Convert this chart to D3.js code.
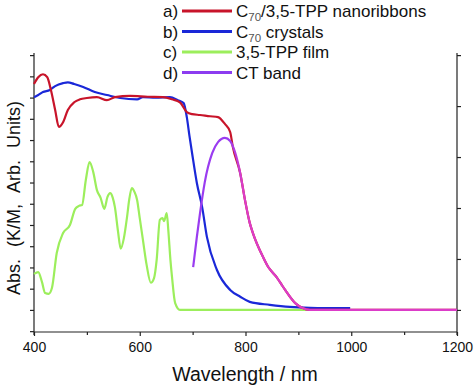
<!DOCTYPE html>
<html><head><meta charset="utf-8">
<script src="https://cdn.jsdelivr.net/npm/d3@7"></script>
<style>
html,body{margin:0;padding:0;background:#fff;}
svg{display:block;font-family:"Liberation Sans",Arial,sans-serif;}
</style></head>
<body>
<svg id="chart" width="474" height="387"></svg>
<script>
// ---- data (wavelength nm, absorbance arb. units) ----
const redWl  = [400,408,417,425,432,440,447,455,464,476,487,500,519,538,553,582,615,644,661,676,689,699,714,733,748,761,771,776,790,799,808,814,833,843,852,860,868,875,894,907,922,1000,1200];
const redAbs = [5.32,5.48,5.55,5.48,5.18,4.71,4.31,4.42,4.71,4.89,4.96,4.99,5.01,4.94,5.01,5.04,5.02,5.01,4.96,4.89,4.66,4.61,4.59,4.56,4.54,4.38,4.19,3.84,3.22,2.59,2.05,1.81,1.25,1.01,0.87,0.75,0.6,0.47,0.16,0.05,0.0,0.0,0.0];

const blueWl  = [400,408,417,430,440,455,464,476,493,515,538,563,595,606,630,657,672,683,689,694,699,708,718,727,746,771,790,808,846,884,922,998];
const blueAbs = [5.01,5.06,5.13,5.18,5.27,5.34,5.36,5.32,5.25,5.13,5.06,4.99,4.96,5.01,5.0,5.01,4.94,4.87,4.54,4.1,3.69,2.99,2.42,1.72,0.94,0.47,0.31,0.19,0.12,0.07,0.05,0.04];

const greenWl  = [400,408,415,421,428,434,443,455,468,478,485,491,498,505,512,519,526,533,539,544,549,553,559,564,570,576,580,585,590,595,600,606,613,621,627,632,638,643,646,651,654,658,661,667,676,920];
const greenAbs = [0.85,0.89,0.66,0.40,0.38,0.52,1.34,1.81,2.0,2.38,2.45,2.47,3.06,3.48,3.25,2.82,2.64,2.38,2.66,2.75,2.64,2.42,1.84,1.44,1.69,2.19,2.59,2.87,2.78,2.59,2.16,1.65,1.06,0.64,0.75,1.18,2.12,2.16,2.09,2.28,1.88,1.18,0.78,0.16,0.0,0.0];

const ctWl  = [701,708,714,723,737,748,761,771,780,790,799,808,814,833,843,852,860,868,875,894,907,922,1000,1200];
const ctAbs = [1.01,1.72,2.28,3.01,3.69,3.95,4.05,3.98,3.72,3.22,2.59,2.05,1.81,1.25,1.01,0.87,0.75,0.6,0.47,0.16,0.05,0.0,0.0,0.0];

const xTicks = [400,600,800,1000,1200];
const xMinor = [500,700,900,1100];
const leftMajor = [0,1,2,3,4,5,6];
const leftMinor = [-0.5,0.5,1.5,2.5,3.5,4.5,5.5];
const rightTicks = [0,1,2,3,4,5];

const legendKeys = ["a)","b)","c)","d)"];
const legendColors = ["#c8142a","#1a28d8","#9cee5c","#8c3cf0"];

// ---- scales ----
const svg = d3.select("#chart");
const x = d3.scaleLinear().domain([400,1200]).range([34,457]);
const y = d3.scaleLinear().domain([-0.52,6.05]).range([332,53]);
const yR = d3.scaleLinear().domain([0,5]).range([y(0), y(6)]);

// ---- axes ----
const axStyle = g => { g.selectAll("path,line").attr("stroke","#222").attr("stroke-width",1.2); g.select(".domain").remove(); };

svg.append("g").attr("transform","translate(0,332)")
  .call(d3.axisBottom(x).tickValues(xTicks).tickSize(4).tickSizeOuter(0).tickFormat(d3.format("d")))
  .call(axStyle)
  .call(g => g.selectAll("text").attr("font-size",14).attr("fill","#111").attr("dy","0.9em"));
svg.append("g").attr("transform","translate(0,332)")
  .call(d3.axisBottom(x).tickValues(xMinor).tickSize(3).tickFormat(""))
  .call(axStyle);

svg.append("g").attr("transform","translate(34,0)")
  .call(d3.axisLeft(y).tickValues(leftMajor).tickSize(4).tickFormat(""))
  .call(axStyle);
svg.append("g").attr("transform","translate(34,0)")
  .call(d3.axisLeft(y).tickValues(leftMinor).tickSize(4).tickFormat(""))
  .call(axStyle);
svg.append("g").attr("transform","translate(457,0)")
  .call(d3.axisRight(yR).tickValues(rightTicks).tickSize(4).tickFormat(""))
  .call(axStyle);

// axis lines
svg.append("line").attr("x1",x(400)).attr("x2",x(1200)).attr("y1",332).attr("y2",332).attr("stroke","#222").attr("stroke-width",1.2);
svg.append("line").attr("x1",34).attr("x2",34).attr("y1",53).attr("y2",335).attr("stroke","#222").attr("stroke-width",1.2);
svg.append("line").attr("x1",457).attr("x2",457).attr("y1",53).attr("y2",335).attr("stroke","#222").attr("stroke-width",1.2);

// ---- curves ----
const line = d3.line().x(d=>x(d[0])).y(d=>y(d[1])).curve(d3.curveMonotoneX);
const series = [
  {wl: greenWl, ab: greenAbs, color: legendColors[2]},
  {wl: blueWl,  ab: blueAbs,  color: legendColors[1]},
  {wl: redWl,   ab: redAbs,   color: legendColors[0]}
];
series.forEach(s => {
  svg.append("path").datum(d3.zip(s.wl, s.ab)).attr("d", line)
    .attr("fill","none").attr("stroke", s.color).attr("stroke-width",2.2).attr("stroke-linejoin","round");
});
const defs = svg.append("defs");
const grad = defs.append("linearGradient").attr("id","ctgrad").attr("gradientUnits","userSpaceOnUse")
  .attr("x1", x(770)).attr("x2", x(795)).attr("y1",0).attr("y2",0);
grad.append("stop").attr("offset",0).attr("stop-color","#9a3cf0");
grad.append("stop").attr("offset",1).attr("stop-color","#dc3cc8");
svg.append("path").datum(d3.zip(ctWl, ctAbs)).attr("d", line)
  .attr("fill","none").attr("stroke","url(#ctgrad)").attr("stroke-width",2.2).attr("stroke-linejoin","round");

// ---- legend ----
const legendLabels = [
  [["C",0],["70",1],["/3,5-TPP nanoribbons",0]],
  [["C",0],["70",1],[" crystals",0]],
  [["3,5-TPP film",0]],
  [["CT band",0]]
];
legendKeys.forEach((k,i) => {
  const cy = 11 + i*20.5;
  svg.append("text").attr("x",163).attr("y",cy+6).attr("font-size",17).attr("fill","#111").text(k);
  svg.append("line").attr("x1",182).attr("x2",232).attr("y1",cy).attr("y2",cy)
    .attr("stroke",legendColors[i]).attr("stroke-width",3);
  const t = svg.append("text").attr("x",236).attr("y",cy+6).attr("font-size",17).attr("fill","#111");
  legendLabels[i].forEach(([s,sub]) => {
    const ts = t.append("tspan").text(s);
    if (sub) ts.attr("font-size",11.5).attr("dy",4).attr("fill","#555");
    else if (i < 2 && s !== "C") ts.attr("dy",-4);
  });
});

// ---- axis titles ----
svg.append("text").attr("x",245).attr("y",381).attr("text-anchor","middle")
  .attr("font-size",19.5).attr("fill","#111").text("Wavelength / nm");
svg.append("text").attr("transform","translate(20,198) rotate(-90)").attr("text-anchor","middle")
  .attr("font-size",18).attr("fill","#111").style("word-spacing","7px")
  .text("Abs. (K/M, Arb. Units)");
</script>
</body></html>
